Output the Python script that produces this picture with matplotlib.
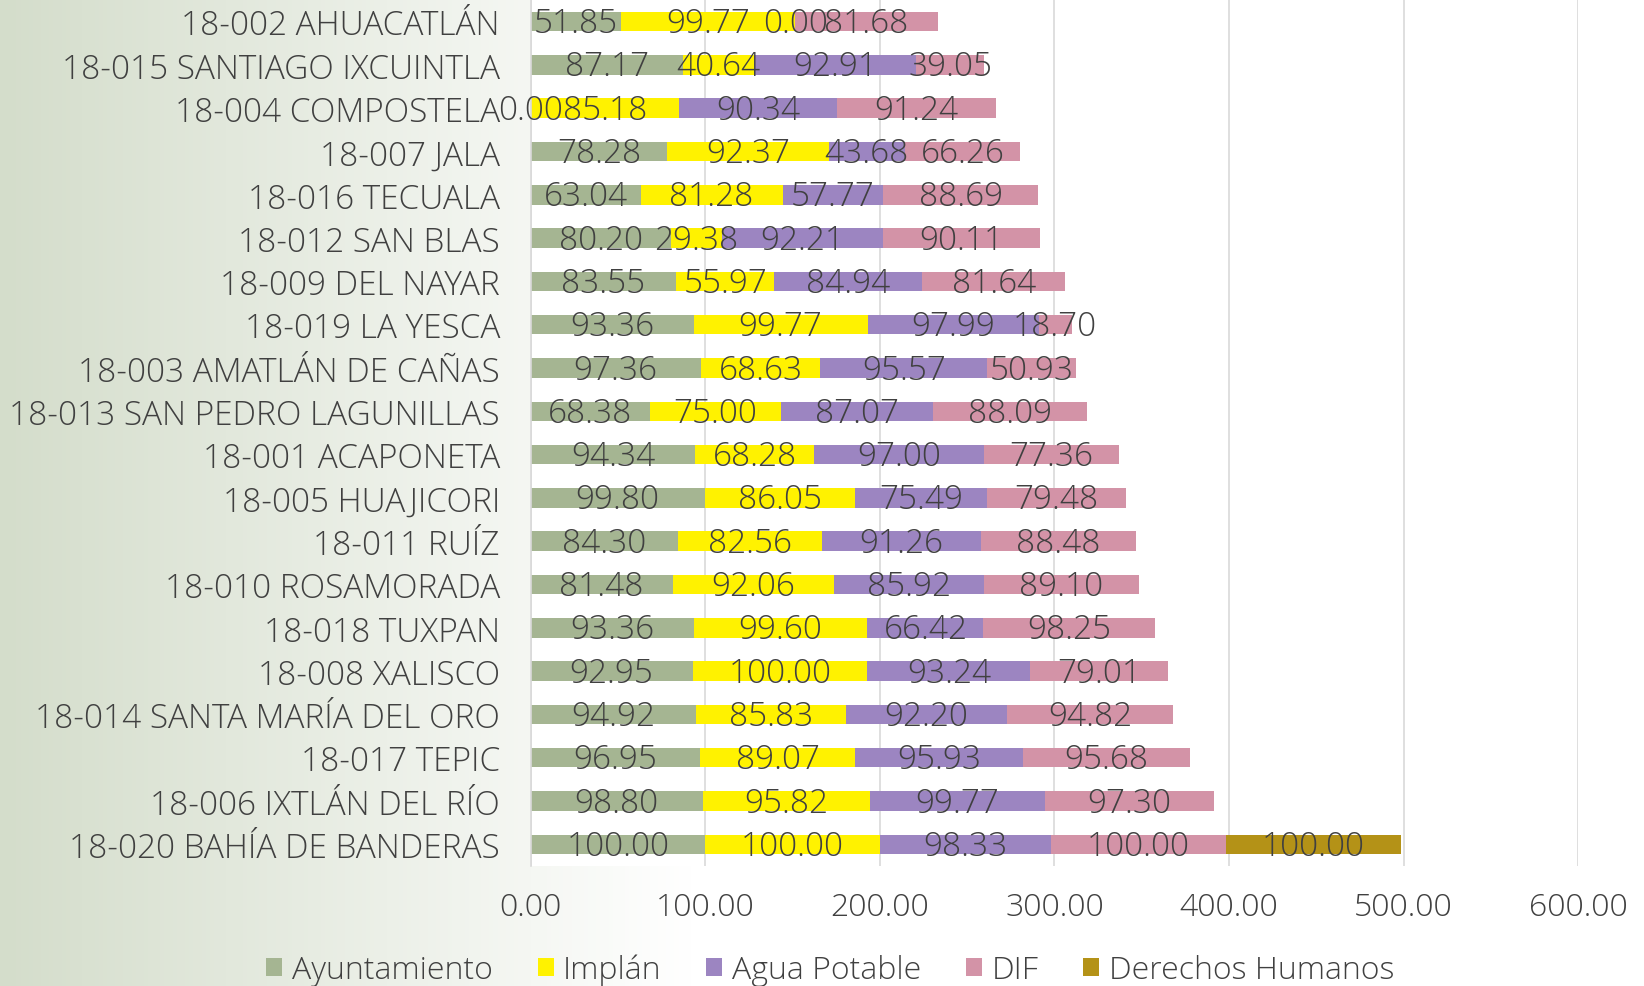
import numpy as np
import matplotlib
matplotlib.use("Agg")
import matplotlib.pyplot as plt
from matplotlib.patches import Patch

# municipalities, top to bottom as in the chart
municipios = [
    "18-002 AHUACATLÁN", "18-015 SANTIAGO IXCUINTLA", "18-004 COMPOSTELA",
    "18-007 JALA", "18-016 TECUALA", "18-012 SAN BLAS", "18-009 DEL NAYAR",
    "18-019 LA YESCA", "18-003 AMATLÁN DE CAÑAS", "18-013 SAN PEDRO LAGUNILLAS",
    "18-001 ACAPONETA", "18-005 HUAJICORI", "18-011 RUÍZ", "18-010 ROSAMORADA",
    "18-018 TUXPAN", "18-008 XALISCO", "18-014 SANTA MARÍA DEL ORO",
    "18-017 TEPIC", "18-006 IXTLÁN DEL RÍO", "18-020 BAHÍA DE BANDERAS",
]
ayuntamiento = [51.85, 87.17, 0.00, 78.28, 63.04, 80.20, 83.55, 93.36, 97.36, 68.38,
                94.34, 99.80, 84.30, 81.48, 93.36, 92.95, 94.92, 96.95, 98.80, 100.00]
implan = [99.77, 40.64, 85.18, 92.37, 81.28, 29.38, 55.97, 99.77, 68.63, 75.00,
          68.28, 86.05, 82.56, 92.06, 99.60, 100.00, 85.83, 89.07, 95.82, 100.00]
agua_potable = [0.00, 92.91, 90.34, 43.68, 57.77, 92.21, 84.94, 97.99, 95.57, 87.07,
                97.00, 75.49, 91.26, 85.92, 66.42, 93.24, 92.20, 95.93, 99.77, 98.33]
dif = [81.68, 39.05, 91.24, 66.26, 88.69, 90.11, 81.64, 18.70, 50.93, 88.09,
       77.36, 79.48, 88.48, 89.10, 98.25, 79.01, 94.82, 95.68, 97.30, 100.00]
nan = float("nan")
derechos_humanos = [nan] * 19 + [100.00]

series = [
    ("Ayuntamiento", ayuntamiento, "#a5b592"),
    ("Implán", implan, "#fff200"),
    ("Agua Potable", agua_potable, "#9c85c1"),
    ("DIF", dif, "#d393a7"),
    ("Derechos Humanos", derechos_humanos, "#b49217"),
]

plt.rcParams["font.family"] = ["Open Sans", "DejaVu Sans"]
plt.rcParams["font.weight"] = "light"
txt = "#404040"
fs = 24

fig = plt.figure(figsize=(16.44, 9.87), dpi=100)

# background gradient, sage on the left fading to white
bg = fig.add_axes([0, 0, 1, 1], zorder=-10)
xs = np.linspace(0, 1, 400)
t = np.clip(xs / 0.42, 0, 1)
left_c = np.array([212, 221, 203]) / 255.0
grad = (left_c[None, :] * (1 - t[:, None]) + np.ones(3)[None, :] * t[:, None])
bg.imshow(grad[None, :, :], aspect="auto", extent=[0, 1, 0, 1])
bg.set_axis_off()

ax = fig.add_axes([0.3227, 0.1216, 0.6373, 0.8774])
ax.set_facecolor("white")

y = np.arange(len(municipios))
left = np.zeros(len(municipios))
for name, vals, col in series:
    v = np.array(vals, dtype=float)
    w = np.nan_to_num(v)
    ax.barh(y, w, left=left, height=0.45, color=col, label=name, zorder=2)
    for i, val in enumerate(v):
        if not np.isnan(val):
            ax.text(left[i] + w[i] / 2, y[i] + 0.04, f"{val:.2f}", ha="center", va="center",
                    fontsize=fs, color=txt, zorder=3)
    left = left + w

ax.set_xlim(0, 600)
ax.set_ylim(len(municipios) - 0.5, -0.5)
ax.set_xticks(np.arange(0, 601, 100))
ax.set_xticklabels([f"{v:.2f}" for v in np.arange(0, 601, 100)])
ax.set_yticks(y)
ax.set_yticklabels(municipios)
ax.tick_params(axis="both", length=0, labelsize=fs, colors=txt)
ax.tick_params(axis="x", labelsize=23, pad=18)
ax.tick_params(axis="y", pad=22)
ax.grid(axis="x", color="#d9d9d9", linewidth=1.2, zorder=0)
for s in ["top", "right", "bottom"]:
    ax.spines[s].set_visible(False)
ax.spines["left"].set_color("#d9d9d9")
ax.spines["left"].set_linewidth(1.2)

handles = [Patch(facecolor=c, label=n) for n, _, c in series]
fig.legend(handles=handles, loc="center", bbox_to_anchor=(0.505, 0.016), ncol=5,
           frameon=False, fontsize=23, labelcolor=txt, handlelength=0.5,
           handleheight=0.5, handletextpad=0.3, columnspacing=1.4)

fig.savefig("out.png", dpi=100)
